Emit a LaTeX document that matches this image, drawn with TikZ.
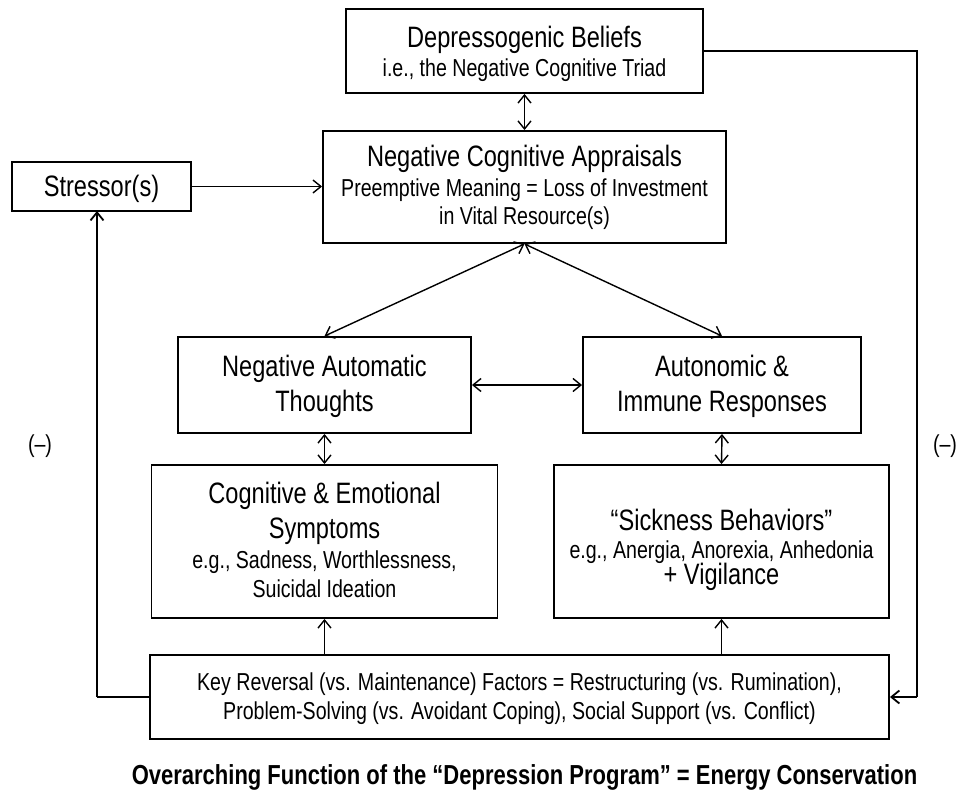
\documentclass[tikz,border=0pt]{standalone}
\usepackage{fontspec}
\setmainfont{Liberation Sans}[FakeStretch=0.8]
\usetikzlibrary{arrows.meta}
\begin{document}
\begin{tikzpicture}[x=1pt,y=-1pt,
  box/.style={draw, line width=1.9pt, inner sep=0pt},
  big/.style={font=\fontsize{29.5}{32}\selectfont, inner sep=0pt, anchor=base},
  small/.style={font=\fontsize{24.5}{27}\selectfont, inner sep=0pt, anchor=base},
  conn/.style={line width=1.4pt, -{Straight Barb[length=8pt,width=13pt]}},
  dconn/.style={line width=1.4pt, {Straight Barb[length=8pt,width=13pt]}-{Straight Barb[length=8pt,width=13pt]}},
  wire/.style={line width=1.8pt}
]
\useasboundingbox (0,0) rectangle (958,791);

% boxes
\node[box, minimum width=357pt, minimum height=84pt] (db) at (524.5,51) {};
\node[box, minimum width=403pt, minimum height=112pt] (nca) at (524.5,187) {};
\node[box, minimum width=179pt, minimum height=49pt] (st) at (101.5,186.5) {};
\node[box, minimum width=293pt, minimum height=96pt] (nat) at (324.5,385) {};
\node[box, minimum width=278pt, minimum height=96pt] (air) at (722,385) {};
\node[box, minimum width=346pt, minimum height=153pt] (ces) at (324.5,541.5) {};
\node[box, minimum width=335pt, minimum height=153pt] (sb) at (721.5,541.5) {};
\node[box, minimum width=739pt, minimum height=84pt] (key) at (519.5,697) {};

% texts
\node[big] (db1) at (524.5,48) {Depressogenic Beliefs};
\node[small] (db2) at (524.5,77) {i.e., the Negative Cognitive Triad};
\node[big] (nca1) at (524.5,167) {Negative Cognitive Appraisals};
\node[small] (nca2) at (524.5,197) {Preemptive Meaning = Loss of Investment};
\node[small] (nca3) at (524.5,225) {in Vital Resource(s)};
\node[big] (st1) at (101.5,197) {Stressor(s)};
\node[big] (nat1) at (324.5,376) {Negative Automatic};
\node[big] (nat2) at (324.5,411) {Thoughts};
\node[big] (air1) at (722,376) {Autonomic \&};
\node[big] (air2) at (722,411) {Immune Responses};
\node[big] (ces1) at (324.5,503) {Cognitive \& Emotional};
\node[big] (ces2) at (324.5,538) {Symptoms};
\node[small] (ces3) at (324.5,568) {e.g., Sadness, Worthlessness,};
\node[small] (ces4) at (324.5,597) {Suicidal Ideation};
\node[big] (sb1) at (721.5,530) {“Sickness Behaviors”};
\node[small] (sb2) at (721.5,558) {e.g., Anergia, Anorexia, Anhedonia};
\node[big] (sb3) at (721.5,584) {+ Vigilance};
\node[small] (key1) at (519.5,690) {Key Reversal (vs. Maintenance) Factors = Restructuring (vs. Rumination),};
\node[small] (key2) at (519.5,719) {Problem-Solving (vs. Avoidant Coping), Social Support (vs. Conflict)};
\node[font=\fontsize{24.5}{27}\selectfont, inner sep=0pt] (ml) at (40,446) {(–)};
\node[font=\fontsize{24.5}{27}\selectfont, inner sep=0pt] (mr) at (945,446) {(–)};
\node[font=\bfseries\fontsize{27.5}{30}\selectfont, inner sep=0pt, anchor=base] (ov) at (524.5,784)
  {Overarching Function of the “Depression Program” = Energy Conservation};

% connectors
\draw[dconn] (db.south) -- (nca.north);
\draw[conn] (st.east) -- (nca.west |- st.east);
\draw[dconn] (nca.south) -- (nat.north);
\draw[dconn] (nca.south) -- (air.north);
\draw[dconn] (nat.east) -- (air.west);
\draw[dconn] (nat.south) -- (ces.north);
\draw[dconn] (air.south) -- (sb.north);
\draw[conn] (key.north -| ces.south) -- (ces.south);
\draw[conn] (key.north -| sb.south) -- (sb.south);

\coordinate (lc) at (97,697);
\coordinate (stb) at (97,211);
\draw[wire] (key.west) -- (lc);
\draw[conn, line width=1.8pt] (lc) -- (stb);
\coordinate (rt) at (917,51);
\coordinate (rb) at (917,697);
\draw[wire] (db.east) -- (rt) -- (rb);
\draw[conn, line width=1.8pt] (rb) -- (key.east);
\end{tikzpicture}
\end{document}
